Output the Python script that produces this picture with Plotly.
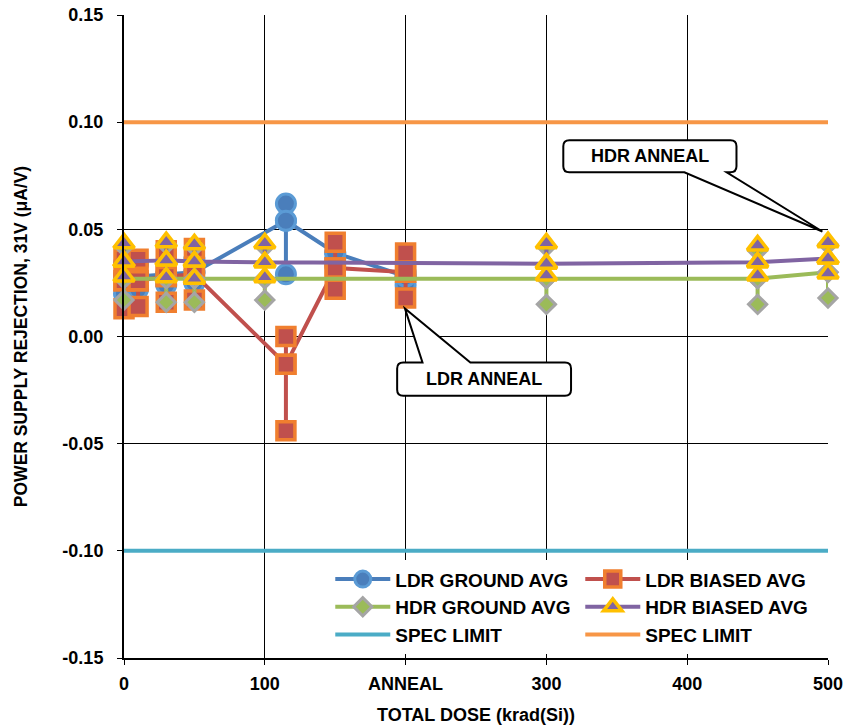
import plotly.graph_objects as go

# ---------------- data ----------------
LDR_X = [0, 10, 30, 50, 115, 150, 200]
LDR_GROUND = [
    [0.028, 0.034, 0.020],
    [0.028, 0.034, 0.022],
    [0.029, 0.035, 0.024],
    [0.030, 0.036, 0.025],
    [0.054, 0.062, 0.029],
    [0.039, 0.036, 0.033],
    [0.028, 0.030, 0.024],
]
LDR_BIASED = [
    [0.026, 0.036, 0.013],
    [0.026, 0.036, 0.014],
    [0.028, 0.040, 0.016],
    [0.029, 0.041, 0.017],
    [-0.013, 0.000, -0.044],
    [0.032, 0.044, 0.022],
    [0.030, 0.039, 0.018],
]
HDR_X = [0, 30, 50, 100, 300, 450, 500]
HDR_GROUND = [
    [0.027, 0.042, 0.017],
    [0.027, 0.043, 0.016],
    [0.027, 0.042, 0.016],
    [0.027, 0.042, 0.017],
    [0.027, 0.042, 0.015],
    [0.027, 0.040, 0.015],
    [0.030, 0.043, 0.018],
]
HDR_BIASED = [
    [0.035, 0.0435, 0.028],
    [0.0355, 0.044, 0.0276],
    [0.035, 0.043, 0.027],
    [0.0346, 0.0435, 0.0276],
    [0.034, 0.0435, 0.0285],
    [0.0346, 0.0425, 0.0285],
    [0.0364, 0.044, 0.0294],
]
SPEC_X = [0, 500]
SPEC_LOW = [-0.10, -0.10]
SPEC_HIGH = [0.10, 0.10]

X_TICKS = [0, 100, 200, 300, 400, 500]
X_TICK_LABELS = ["0", "100", "ANNEAL", "300", "400", "500"]
Y_TICKS = [-0.15, -0.10, -0.05, 0.0, 0.05, 0.10, 0.15]
Y_TICK_LABELS = ["-0.15", "-0.10", "-0.05", "0.00", "0.05", "0.10", "0.15"]


def path(xs, groups):
    px, py = [], []
    for x, vals in zip(xs, groups):
        seq = list(vals) + [vals[0]]
        px += [x] * len(seq)
        py += seq
    return px, py


FONT = "Liberation Sans, Arial, sans-serif"
fig = go.Figure()

x, y = path(LDR_X, LDR_GROUND)
fig.add_trace(go.Scatter(x=x, y=y, mode="lines+markers", name="LDR GROUND AVG",
                         line=dict(color="#4A7EBB", width=4),
                         marker=dict(symbol="circle", size=19, color="#4A7EBB",
                                     line=dict(color="#5B9BD5", width=3)),
                         cliponaxis=False))
x, y = path(LDR_X, LDR_BIASED)
fig.add_trace(go.Scatter(x=x, y=y, mode="lines+markers", name="LDR BIASED AVG",
                         line=dict(color="#C0504D", width=4),
                         marker=dict(symbol="square", size=18, color="#C0504D",
                                     line=dict(color="#F07F2F", width=3.5)),
                         cliponaxis=False))
x, y = path(HDR_X, HDR_GROUND)
fig.add_trace(go.Scatter(x=x, y=y, mode="lines+markers", name="HDR GROUND AVG",
                         line=dict(color="#9BBB59", width=4),
                         marker=dict(symbol="diamond", size=14, color="#9BBB59",
                                     line=dict(color="#A5A5A5", width=3)),
                         cliponaxis=False))
x, y = path(HDR_X, HDR_BIASED)
fig.add_trace(go.Scatter(x=x, y=y, mode="lines+markers", name="HDR BIASED AVG",
                         line=dict(color="#8064A2", width=4),
                         marker=dict(symbol="triangle-up", size=18, color="#8064A2",
                                     line=dict(color="#FFC000", width=3.5)),
                         cliponaxis=False))
fig.add_trace(go.Scatter(x=SPEC_X, y=SPEC_LOW, mode="lines", name="SPEC LIMIT",
                         line=dict(color="#4BACC6", width=4)))
fig.add_trace(go.Scatter(x=SPEC_X, y=SPEC_HIGH, mode="lines", name="SPEC LIMIT",
                         line=dict(color="#F79646", width=4)))


def callout(x0, x1, yt, yb, base, tip, on_top):
    rx, ry = 4.3, 0.0028
    b0, b1 = base
    tx, ty = tip
    p = f"M {x0+rx},{yt} "
    if on_top:
        p += f"L {b0},{yt} L {tx},{ty} L {b1},{yt} "
    p += f"L {x1-rx},{yt} Q {x1},{yt} {x1},{yt-ry} L {x1},{yb+ry} Q {x1},{yb} {x1-rx},{yb} "
    if not on_top:
        p += f"L {b1},{yb} L {tx},{ty} L {b0},{yb} "
    p += f"L {x0+rx},{yb} Q {x0},{yb} {x0},{yb+ry} L {x0},{yt-ry} Q {x0},{yt} {x0+rx},{yt} Z"
    return p


fig.add_shape(type="path", path=callout(312, 435, 0.0916, 0.0766, (398, 428), (496, 0.049), False),
              line=dict(color="black", width=2), fillcolor="white", layer="above")
fig.add_shape(type="path", path=callout(194, 317.5, -0.0121, -0.0276, (212, 246), (199.5, 0.0131), True),
              line=dict(color="black", width=2), fillcolor="white", layer="above")
fig.add_annotation(x=373.5, y=0.0841, text="HDR ANNEAL", showarrow=False,
                   font=dict(family=FONT, size=18, color="black", weight="bold"))
fig.add_annotation(x=256, y=-0.0198, text="LDR ANNEAL", showarrow=False,
                   font=dict(family=FONT, size=18, color="black", weight="bold"))

fig.update_layout(
    width=844, height=725,
    margin=dict(l=124, r=16, t=15, b=67),
    paper_bgcolor="white", plot_bgcolor="white",
    font=dict(family=FONT, size=18, color="black", weight="bold"),
    showlegend=True,
    legend=dict(orientation="h", x=0.293, y=0.152, xanchor="left", yanchor="top",
                bgcolor="white", entrywidth=180, entrywidthmode="pixels",
                itemwidth=55, font=dict(family=FONT, size=19, color="black", weight="bold"),
                traceorder="normal"),
    xaxis=dict(range=[0, 500], tickmode="array", tickvals=X_TICKS, ticktext=X_TICK_LABELS,
               showgrid=True, gridcolor="black", gridwidth=1,
               showline=True, linecolor="black", linewidth=1.5,
               ticks="outside", ticklen=5, tickcolor="black", ticklabelstandoff=4,
               zeroline=False, automargin=False,
               title=dict(text="TOTAL DOSE (krad(Si))", standoff=20,
                          font=dict(family=FONT, size=18, weight="bold"))),
    yaxis=dict(range=[-0.15, 0.15], tickmode="array", tickvals=Y_TICKS, ticktext=Y_TICK_LABELS,
               showgrid=True, gridcolor="black", gridwidth=1,
               showline=True, linecolor="black", linewidth=2,
               zeroline=True, zerolinecolor="black", zerolinewidth=1,
               ticks="outside", ticklen=5, tickcolor="black", ticklabelstandoff=10,
               automargin=False,
               title=dict(text="POWER SUPPLY REJECTION, 31V (μA/V)", standoff=30,
                          font=dict(family=FONT, size=17.5, weight="bold"))),
)

fig.write_html("out.html")
